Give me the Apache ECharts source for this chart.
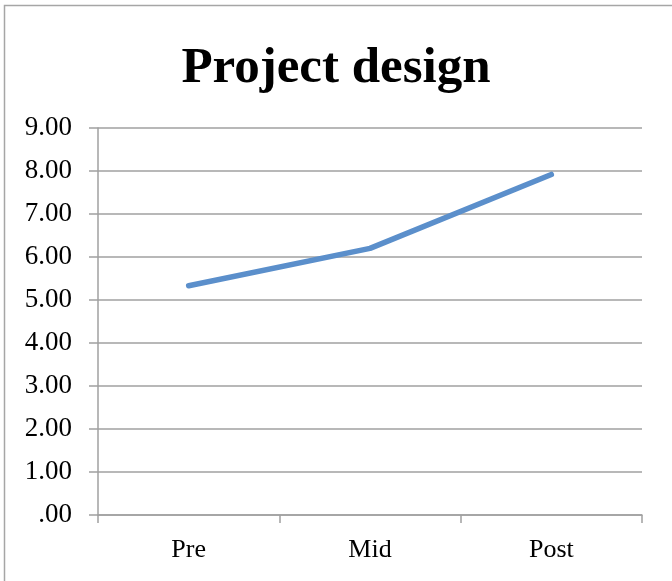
<!DOCTYPE html>
<html>
<head>
<meta charset="utf-8">
<script src="https://cdn.jsdelivr.net/npm/echarts@6/dist/echarts.min.js"></script>
<style>
  html, body { margin: 0; padding: 0; background: #fff; }
  #chart { width: 672px; height: 581px; }
</style>
</head>
<body>
<div id="chart"></div>
<script>
  // chart data
  var categories = ['Pre', 'Mid', 'Post']
  var scores = [5.33, 6.20, 7.92]
  var yTicks = [0, 1, 2, 3, 4, 5, 6, 7, 8, 9]

  var serif = '"Liberation Serif", "DejaVu Serif", serif'
  var gray = '#a0a0a0'

  var chart = echarts.init(document.getElementById('chart'))
  chart.setOption({
    backgroundColor: '#fff',
    animation: false,
    title: {
      text: 'Project design',
      left: 'center',
      top: 38,
      textStyle: { fontFamily: serif, fontWeight: 'bold', fontSize: 51, color: '#000' }
    },
    // frame: only top and left edges show in the picture
    graphic: [
      {
        type: 'polyline',
        shape: { points: [[4.5, 581], [4.5, 5.5], [672, 5.5]] },
        style: { fill: null, stroke: '#a6a6a6', lineWidth: 1.5 },
        silent: true
      }
    ],
    grid: { left: 98, right: 30, top: 128, bottom: 66 },
    xAxis: {
      type: 'category',
      data: categories,
      boundaryGap: true,
      axisLine: { lineStyle: { color: gray, width: 1.5 } },
      axisTick: { show: true, length: 8, lineStyle: { color: gray, width: 1.5 } },
      axisLabel: { color: '#000', fontFamily: serif, fontSize: 26, margin: 22 }
    },
    yAxis: {
      type: 'value',
      min: yTicks[0],
      max: yTicks[yTicks.length - 1],
      interval: 1,
      axisLine: { show: true, lineStyle: { color: gray, width: 1.5 } },
      axisTick: { show: true, length: 9, lineStyle: { color: gray, width: 1.5 } },
      splitLine: { lineStyle: { color: gray, width: 1.5 } },
      axisLabel: {
        color: '#000', fontFamily: serif, fontSize: 27, margin: 26,
        formatter: function (v) {
          var s = v.toFixed(2)
          return s.charAt(0) === '0' ? s.slice(1) : s
        }
      }
    },
    series: [{
      type: 'line',
      data: scores,
      showSymbol: false,
      lineStyle: { color: '#5b8fcb', width: 5.5, cap: 'round', join: 'round' }
    }]
  })
</script>
</body>
</html>
